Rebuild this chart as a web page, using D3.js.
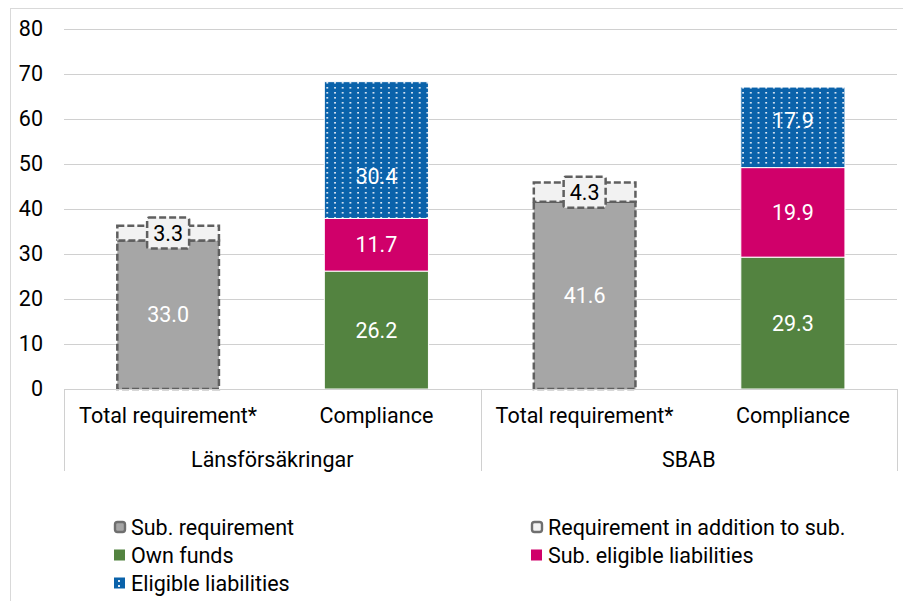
<!DOCTYPE html>
<html><head><meta charset="utf-8">
<script src="https://cdn.jsdelivr.net/npm/d3@7"></script>
<style>
html,body{margin:0;padding:0;background:#fff;}
svg{display:block;font-family:Roboto, "Liberation Sans", sans-serif;}
</style></head>
<body><svg id="c" width="903" height="601"></svg>
<script>
const groups = ["Länsförsäkringar", "SBAB"];
const barNames = ["Total requirement*", "Compliance"];
const categories = ["L-Total", "L-Compliance", "S-Total", "S-Compliance"];
const seriesNames = ["Sub. requirement", "Requirement in addition to sub.", "Own funds", "Sub. eligible liabilities", "Eligible liabilities"];
const subRequirement = [33.0, 0, 41.6, 0];
const additionalRequirement = [3.3, 0, 4.3, 0];
const ownFunds = [0, 26.2, 0, 29.3];
const subEligible = [0, 11.7, 0, 19.9];
const eligible = [0, 30.4, 0, 17.9];
const yTicks = [0, 10, 20, 30, 40, 50, 60, 70, 80];

(function () {
const FS = 21.5, FW = 400;
const keys = ["sub", "add", "own", "subel", "el"];
// manual label nudges (pixels) as placed in the original chart
const labelNudge = { "L-Compliance|el": 26, "S-Compliance|el": -7 };
const table = categories.map((c, i) => ({
  cat: c, sub: subRequirement[i], add: additionalRequirement[i],
  own: ownFunds[i], subel: subEligible[i], el: eligible[i]
}));

const svg = d3.select("#c");
const pLeft = 64, pRight = 897, pTop = 29, pBottom = 389;

svg.append("rect").attr("x", 10.5).attr("y", 8.5).attr("width", 900).attr("height", 600)
  .attr("fill", "none").attr("stroke", "#d9d9d9").attr("stroke-width", 1);

const y = d3.scaleLinear().domain([0, 80]).range([pBottom, pTop]);
const x = d3.scaleBand().domain(categories).range([pLeft, pRight]).paddingInner(0.5).paddingOuter(0.25);

svg.append("g").selectAll("line").data(yTicks.filter(t => t > 0)).join("line")
  .attr("x1", pLeft).attr("x2", pRight)
  .attr("y1", d => Math.round(y(d)) + 0.5).attr("y2", d => Math.round(y(d)) + 0.5)
  .attr("stroke", "#d0d0d0").attr("stroke-width", 1);

const yAxis = d3.axisLeft(y).tickValues(yTicks).tickSize(0).tickPadding(0).tickFormat(d3.format("d"));
const ya = svg.append("g").attr("transform", "translate(43,0)").call(yAxis);
ya.select(".domain").remove();
ya.selectAll("text").attr("font-size", FS).attr("font-weight", FW).attr("fill", "#000").attr("font-family", "Roboto");

const defs = svg.append("defs");
const pat = defs.append("pattern").attr("id", "dots").attr("patternUnits", "userSpaceOnUse")
  .attr("width", 7.7).attr("height", 5);
pat.append("rect").attr("width", 7.7).attr("height", 5).attr("fill", "#0a62aa");
pat.append("rect").attr("x", 3).attr("y", 2).attr("width", 1.8).attr("height", 1.6).attr("fill", "#dfe9f5");

const styles = {
  sub: { fill: "#a6a6a6", stroke: "#5f5f5f", dash: "7,3", sw: 2.5, text: "#fff" },
  add: { fill: "#f2f2f2", stroke: "#5f5f5f", dash: "7,3", sw: 2.5, text: "#000" },
  own: { fill: "#538340", stroke: "#fff", dash: null, sw: 1, text: "#fff" },
  subel: { fill: "#d0006a", stroke: "#fff", dash: null, sw: 1, text: "#fff" },
  el: { fill: "url(#dots)", stroke: "#fff", dash: null, sw: 1, text: "#fff" }
};

const stacked = d3.stack().keys(keys)(table);

const barsG = svg.append("g");
stacked.forEach(layer => {
  const st = styles[layer.key];
  barsG.append("g").selectAll("rect").data(layer.filter(d => d[1] - d[0] > 0)).join("rect")
    .attr("x", d => x(d.data.cat) + (st.dash ? 1.25 : 0))
    .attr("width", x.bandwidth() - (st.dash ? 2.5 : 0))
    .attr("y", d => y(d[1]))
    .attr("height", d => y(d[0]) - y(d[1]))
    .attr("fill", st.fill).attr("stroke", st.stroke).attr("stroke-width", st.sw)
    .attr("stroke-dasharray", st.dash);
});

svg.append("line").attr("x1", pLeft).attr("x2", pRight).attr("y1", pBottom + 0.5).attr("y2", pBottom + 0.5)
  .attr("stroke", "#d0d0d0");

stacked.forEach(layer => {
  const st = styles[layer.key];
  const g = svg.append("g");
  layer.filter(d => d[1] - d[0] > 0).forEach(d => {
    const cx = x(d.data.cat) + x.bandwidth() / 2;
    const cy = (y(d[0]) + y(d[1])) / 2 + (labelNudge[d.data.cat + "|" + layer.key] || 0);
    const label = d3.format(".1f")(d[1] - d[0]);
    if (layer.key === "add") {
      g.append("rect").attr("x", cx - 21).attr("y", cy - 15.5).attr("width", 42).attr("height", 31)
        .attr("rx", 2).attr("fill", "#f2f2f2").attr("stroke", "#5f5f5f")
        .attr("stroke-width", 2.5).attr("stroke-dasharray", "7,3");
    }
    g.append("text").attr("x", cx).attr("y", cy).attr("text-anchor", "middle")
      .attr("dominant-baseline", "central").attr("font-size", FS).attr("font-weight", FW)
      .attr("fill", st.text).text(label);
  });
});

const sepXs = [pLeft, (pLeft + pRight) / 2, pRight];
svg.append("g").selectAll("line").data(sepXs).join("line")
  .attr("x1", d => Math.round(d) + 0.5).attr("x2", d => Math.round(d) + 0.5)
  .attr("y1", pBottom).attr("y2", 471).attr("stroke", "#d0d0d0");

svg.append("g").selectAll("text").data(categories).join("text")
  .attr("x", d => x(d) + x.bandwidth() / 2).attr("y", 415)
  .attr("text-anchor", "middle").attr("dominant-baseline", "central").attr("font-size", FS).attr("font-weight", FW)
  .text((d, i) => barNames[i % 2]);

svg.append("g").selectAll("text").data(groups).join("text")
  .attr("x", (d, i) => (x(categories[i * 2]) + x(categories[i * 2 + 1]) + x.bandwidth()) / 2)
  .attr("y", 459)
  .attr("text-anchor", "middle").attr("dominant-baseline", "central").attr("font-size", FS).attr("font-weight", FW)
  .text(d => d);

const legendPos = [
  { k: "sub", x: 114, y: 527 }, { k: "add", x: 531, y: 527 },
  { k: "own", x: 114, y: 555 }, { k: "subel", x: 531, y: 555 },
  { k: "el", x: 114, y: 583 }
];
const lg = svg.append("g");
legendPos.forEach(p => {
  const st = styles[p.k];
  if (p.k === "sub" || p.k === "add") {
    lg.append("rect").attr("x", p.x + 1).attr("y", p.y - 5).attr("width", 10).attr("height", 10).attr("rx", 2.5)
      .attr("fill", st.fill).attr("stroke", "#6f6f6f").attr("stroke-width", 2.4);
  } else {
    lg.append("rect").attr("x", p.x).attr("y", p.y - 5.5).attr("width", 11).attr("height", 11)
      .attr("fill", p.k === "el" ? "#0a62aa" : st.fill);
    if (p.k === "el") {
      lg.append("rect").attr("x", p.x + 4).attr("y", p.y - 3).attr("width", 2).attr("height", 2).attr("fill", "#dfe9f5");
      lg.append("rect").attr("x", p.x + 4).attr("y", p.y + 2).attr("width", 2).attr("height", 2).attr("fill", "#dfe9f5");
    }
  }
  lg.append("text").attr("x", p.x + 17).attr("y", p.y).attr("dominant-baseline", "central")
    .attr("font-size", FS).attr("font-weight", FW).attr("fill", "#000").text(seriesNames[keys.indexOf(p.k)]);
});
})();
</script></body></html>
